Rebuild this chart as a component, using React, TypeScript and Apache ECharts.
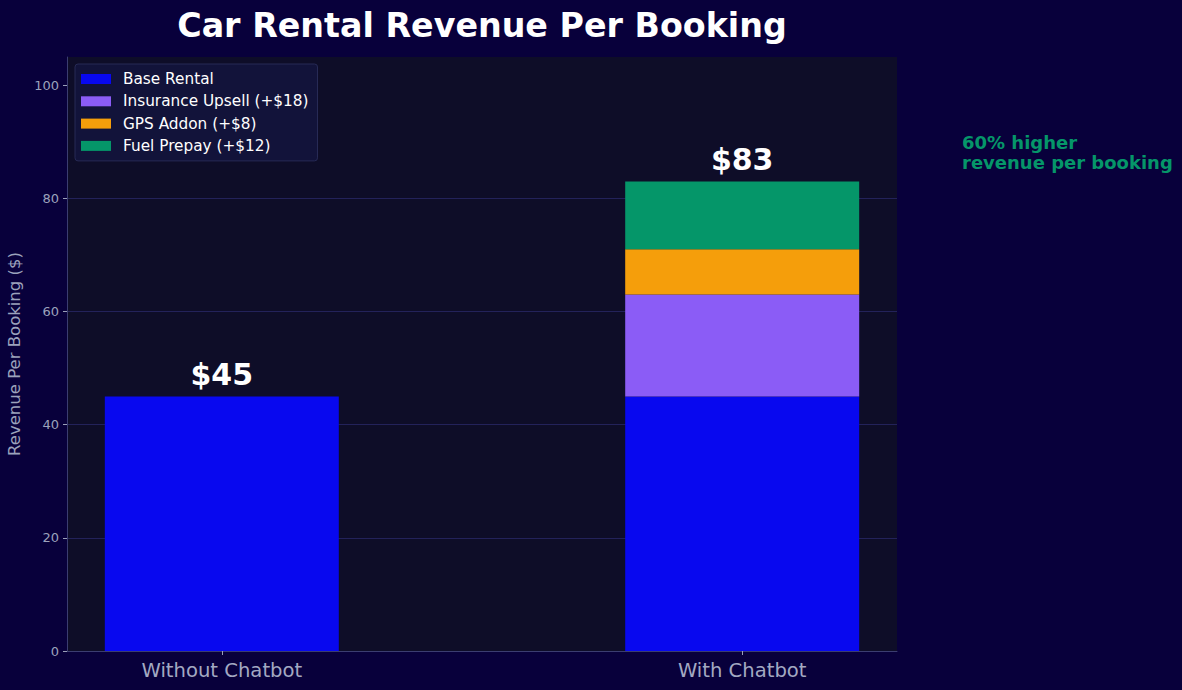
import React, { useEffect, useRef } from "react";
import * as echarts from "echarts";

// Booking scenarios and per-booking revenue components ($)
const categories = ["Without Chatbot", "With Chatbot"];
const baseRental = [45, 45];
const insuranceUpsell = [0, 18];
const gpsAddon = [0, 8];
const fuelPrepay = [0, 12];
const yTicks = [0, 20, 40, 60, 80, 100];

const seriesNames = [
  "Base Rental",
  "Insurance Upsell (+$18)",
  "GPS Addon (+$8)",
  "Fuel Prepay (+$12)",
];
const seriesColors = ["#0808ef", "#8b5cf6", "#f59e0b", "#059669"];
const seriesValues = [baseRental, insuranceUpsell, gpsAddon, fuelPrepay];

const totals = categories.map((_, i) =>
  seriesValues.reduce((s, arr) => s + arr[i], 0)
);

const FONT = "DejaVu Sans";

export default function App() {
  const ref = useRef<HTMLDivElement>(null);

  useEffect(() => {
    document.body.style.margin = "0";
    if (!ref.current) return;
    const chart = echarts.init(ref.current, undefined, { renderer: "svg" });

    // value first, position second, so the stack runs along y
    const barSeries = seriesValues.map((vals, si) => ({
      type: "bar",
      name: seriesNames[si],
      stack: "total",
      barWidth: 234,
      itemStyle: { color: seriesColors[si] },
      encode: { x: 1, y: 0 },
      data: vals.map((v, i) => [v, i]),
      z: 2,
    }));

    chart.setOption({
      animation: false,
      backgroundColor: "#08003b",
      textStyle: { fontFamily: FONT },
      grid: {
        left: 67,
        top: 57,
        width: 830,
        height: 594,
        outerBoundsMode: "none",
        containLabel: false,
        show: true,
        backgroundColor: "#0e0d28",
        borderWidth: 0,
      },
      legend: {
        orient: "vertical",
        left: 75,
        top: 64,
        padding: [6, 9, 6, 6],
        itemWidth: 30,
        itemHeight: 10,
        itemGap: 4.3,
        backgroundColor: "#12133a",
        borderColor: "#272a55",
        borderWidth: 1,
        borderRadius: 3,
        icon: "rect",
        textStyle: {
          color: "#ffffff",
          fontSize: 15.3,
          lineHeight: 18,
          fontFamily: FONT,
          padding: [0, 0, 0, 7],
        },
        data: seriesNames,
      },
      xAxis: {
        type: "value",
        min: -0.2975,
        max: 1.2975,
        splitLine: { show: false },
        axisLine: { show: true, onZero: false, lineStyle: { color: "#3b3d70", width: 1 } },
        axisTick: {
          show: true,
          customValues: [0, 1],
          length: 4,
          lineStyle: { color: "#9aa0b8" },
        },
        axisLabel: {
          customValues: [0, 1],
          formatter: (v: number) => categories[Math.round(v)] ?? "",
          color: "#a3a9c2",
          fontSize: 19.6,
          fontFamily: FONT,
          margin: 9,
        },
      },
      yAxis: {
        type: "value",
        min: 0,
        max: 105,
        interval: 20,
        name: "Revenue Per Booking ($)",
        nameLocation: "middle",
        nameGap: 43,
        nameTextStyle: { color: "#9ca2bc", fontSize: 16.5, fontFamily: FONT },
        axisLine: { show: true, onZero: false, lineStyle: { color: "#3b3d70", width: 1 } },
        axisTick: {
          show: true,
          customValues: yTicks,
          length: 4,
          lineStyle: { color: "#9aa0b8" },
        },
        axisLabel: {
          customValues: yTicks,
          color: "#9ca2bc",
          fontSize: 13,
          fontFamily: FONT,
          margin: 8,
        },
        splitLine: {
          show: true,
          showMinLine: false,
          showMaxLine: false,
          lineStyle: { color: "#23225a", width: 1 },
        },
      },
      series: [
        ...barSeries,
        {
          type: "scatter",
          symbolSize: 0,
          silent: true,
          z: 5,
          itemStyle: { opacity: 1 },
          data: totals.map((t, i) => [i, t]),
          label: {
            show: true,
            position: "inside",
            offset: [0, -22],
            formatter: (p: any) => "$" + p.value[1],
            color: "#ffffff",
            fontSize: 30,
            fontWeight: "bold",
            fontFamily: FONT,
          },
        },
      ],
      graphic: [
        {
          type: "text",
          x: 482,
          y: 25,
          style: {
            text: "Car Rental Revenue Per Booking",
            fill: "#ffffff",
            font: `bold 33.3px "${FONT}"`,
            textAlign: "center",
            textVerticalAlign: "middle",
          },
        },
        {
          type: "text",
          x: 962,
          y: 132,
          style: {
            text: "60% higher\nrevenue per booking",
            fill: "#059669",
            font: `bold 18px "${FONT}"`,
            lineHeight: 20,
            textAlign: "left",
            textVerticalAlign: "top",
          },
        },
      ],
    });

    return () => chart.dispose();
  }, []);

  return <div ref={ref} style={{ width: 1182, height: 690 }} />;
}
